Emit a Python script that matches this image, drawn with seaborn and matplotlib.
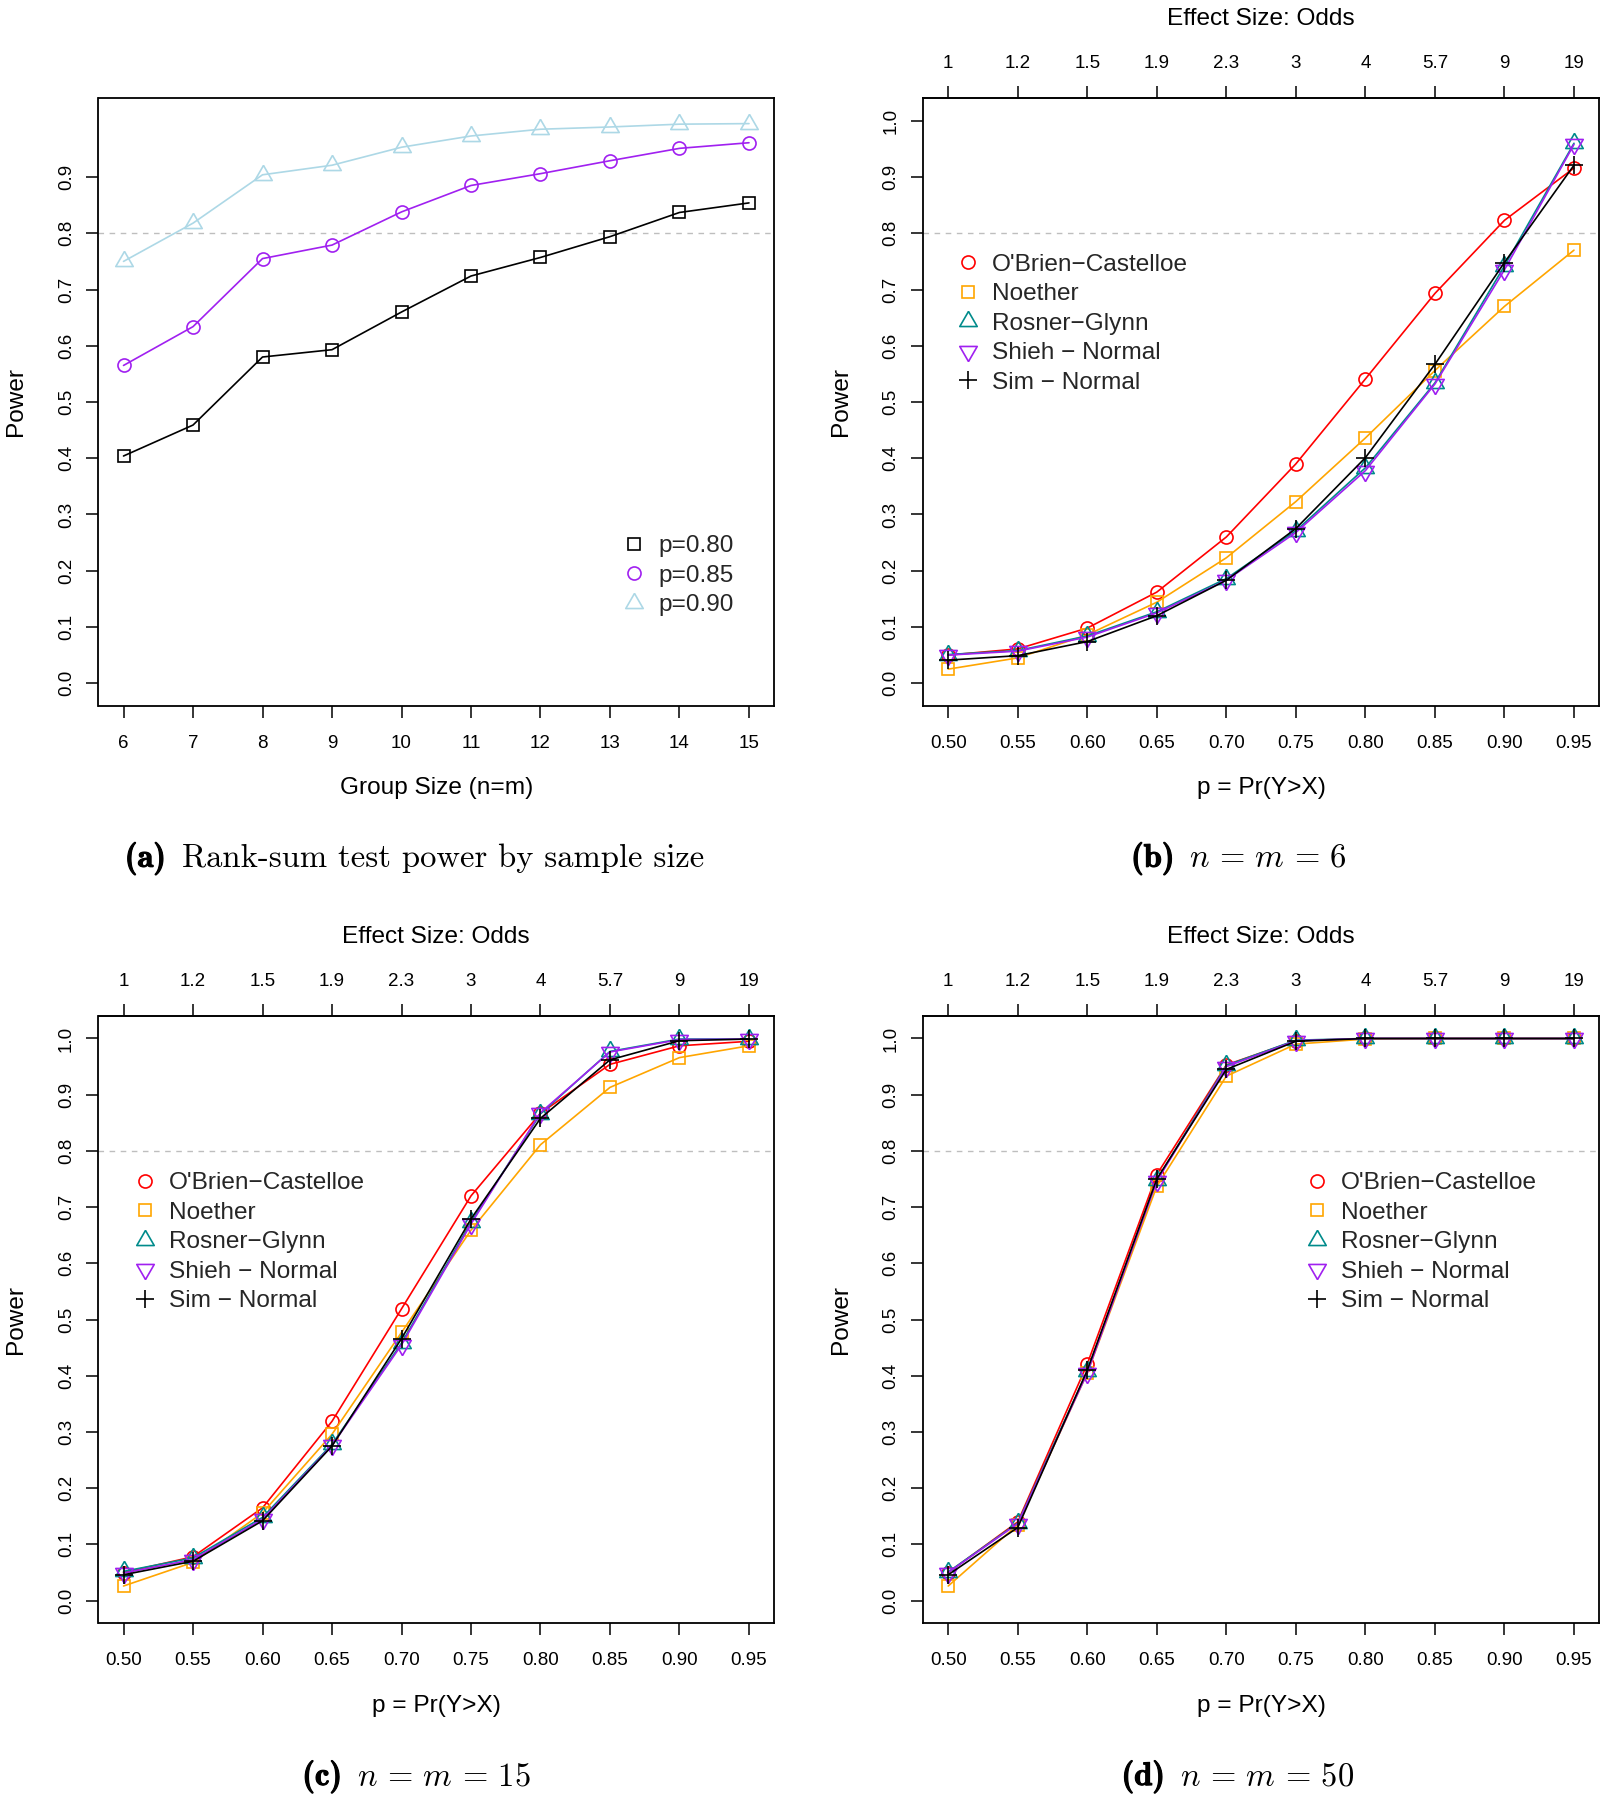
import matplotlib
matplotlib.use("Agg")
import matplotlib.pyplot as plt
import matplotlib.patheffects as pe
from matplotlib.lines import Line2D
import seaborn as sns

# ---- data ----
group_sizes = [6, 7, 8, 9, 10, 11, 12, 13, 14, 15]
power_p80 = [0.404, 0.459, 0.580, 0.593, 0.660, 0.724, 0.757, 0.794, 0.837, 0.854]
power_p85 = [0.565, 0.634, 0.755, 0.779, 0.838, 0.885, 0.906, 0.929, 0.951, 0.961]
power_p90 = [0.750, 0.818, 0.904, 0.921, 0.953, 0.973, 0.985, 0.989, 0.994, 0.995]

p_values = [0.50, 0.55, 0.60, 0.65, 0.70, 0.75, 0.80, 0.85, 0.90, 0.95]
odds_labels = ["1", "1.2", "1.5", "1.9", "2.3", "3", "4", "5.7", "9", "19"]
power_ticks = [0.0, 0.1, 0.2, 0.3, 0.4, 0.5, 0.6, 0.7, 0.8, 0.9, 1.0]

# n = m = 6
obrien_6 = [0.050, 0.061, 0.098, 0.162, 0.260, 0.390, 0.541, 0.693, 0.823, 0.916]
noether_6 = [0.025, 0.045, 0.086, 0.144, 0.223, 0.323, 0.436, 0.556, 0.670, 0.770]
rosner_6 = [0.051, 0.058, 0.084, 0.127, 0.186, 0.271, 0.383, 0.534, 0.742, 0.960]
shieh_6 = [0.050, 0.057, 0.082, 0.125, 0.183, 0.268, 0.378, 0.532, 0.735, 0.958]
sim_6 = [0.041, 0.049, 0.074, 0.120, 0.183, 0.275, 0.401, 0.567, 0.748, 0.921]

# n = m = 15
obrien_15 = [0.050, 0.078, 0.165, 0.319, 0.519, 0.720, 0.867, 0.954, 0.987, 0.995]
noether_15 = [0.026, 0.068, 0.156, 0.296, 0.477, 0.659, 0.811, 0.913, 0.966, 0.987]
rosner_15 = [0.052, 0.076, 0.148, 0.278, 0.458, 0.673, 0.866, 0.977, 0.999, 0.999]
shieh_15 = [0.049, 0.073, 0.145, 0.276, 0.455, 0.670, 0.868, 0.976, 0.998, 0.999]
sim_15 = [0.046, 0.070, 0.142, 0.275, 0.466, 0.679, 0.858, 0.962, 0.996, 0.999]

# n = m = 50
obrien_50 = [0.050, 0.140, 0.421, 0.758, 0.953, 0.996, 1.000, 1.000, 1.000, 1.000]
noether_50 = [0.026, 0.135, 0.405, 0.737, 0.933, 0.990, 0.999, 1.000, 1.000, 1.000]
rosner_50 = [0.051, 0.138, 0.408, 0.748, 0.952, 0.997, 1.000, 1.000, 1.000, 1.000]
shieh_50 = [0.050, 0.137, 0.405, 0.746, 0.950, 0.996, 1.000, 1.000, 1.000, 1.000]
sim_50 = [0.046, 0.130, 0.410, 0.750, 0.945, 0.995, 1.000, 1.000, 1.000, 1.000]

method_names = ["O'Brien\u2212Castelloe", "Noether", "Rosner\u2212Glynn",
                "Shieh \u2212 Normal", "Sim \u2212 Normal"]
group_names = ["p=0.80", "p=0.85", "p=0.90"]

# ---- styling ----
sns.set_theme(style="white")
plt.rcParams["font.family"] = ["Liberation Sans", "DejaVu Sans"]
plt.rcParams["mathtext.fontset"] = "cm"

# R-like triangles (centroid on the data point)
TRI_UP = [(0, 1), (-0.866, -0.5), (0.866, -0.5), (0, 1)]
TRI_DOWN = [(0, -1), (-0.866, 0.5), (0.866, 0.5), (0, -1)]
SQUARE = ("s", 8.3)
CIRCLE = ("o", 9.4)
UP = (TRI_UP, 14.5)
DOWN = (TRI_DOWN, 14.5)
PLUS = ("+", 13.2)
method_styles = [(CIRCLE, "#FF0000"), (SQUARE, "#FFA500"), (UP, "#008B8B"),
                 (DOWN, "#A020F0"), (PLUS, "black")]
group_styles = [(SQUARE, "black"), (CIRCLE, "#A020F0"), (UP, "#ADD8E6")]

W, H = 1606, 1800
LW = 1.2
TICK_FS = 13.5
LAB_FS = 17.6
CAP_FS = 23.5

fig = plt.figure(figsize=(W / 100, H / 100), dpi=100)


def px_axes(left, top, right, bottom):
    return fig.add_axes([left / W, 1 - bottom / H, (right - left) / W, (bottom - top) / H])


def draw_series(ax, x, y, style, color):
    marker, ms = style
    sns.lineplot(x=x, y=y, ax=ax, color=color, lw=LW, marker=marker, ms=ms,
                 mfc="none", mec=color, mew=LW, legend=False)


def style_axes(ax):
    for s in ax.spines.values():
        s.set_visible(True)
        s.set_color("black")
        s.set_linewidth(1.3)
    ax.grid(False)
    ax.tick_params(axis="both", direction="out", length=8.4, width=1.1, color="black",
                   labelsize=TICK_FS, labelcolor="black", bottom=True, left=True)
    ax.tick_params(axis="x", pad=12.5)
    ax.tick_params(axis="y", pad=8.5, labelrotation=90)
    for lbl in ax.get_yticklabels():
        lbl.set_va("center")
    ax.axhline(0.8, color="#BEBEBE", lw=1.0, ls=(0, (4, 4)), zorder=0)
    ax.set_ylabel("Power", fontsize=LAB_FS, labelpad=22, color="black")


def legend_handle(style, color):
    marker, ms = style
    return Line2D([], [], ls="none", marker=marker, ms=ms, mfc="none", mec=color, mew=LW)


def add_legend(ax, styles, labels, marker_x, row1_y):
    hl = 1.0
    fs_px = LAB_FS * 100 / 72
    x0 = marker_x - hl * fs_px / 2
    y0 = row1_y - 9.0
    handles = [legend_handle(s, c) for s, c in styles]
    ax.legend(handles, labels, loc="upper left", bbox_to_anchor=(x0 / W, 1 - y0 / H),
              bbox_transform=fig.transFigure, frameon=False, fontsize=LAB_FS,
              borderpad=0, borderaxespad=0, handlelength=hl, handletextpad=0.5,
              labelspacing=0.30)


def method_panel(ax, series):
    for vals, (style, color) in zip(series, method_styles):
        draw_series(ax, p_values, vals, style, color)
    ax.set_xlim(0.482, 0.968)
    ax.set_ylim(-0.04, 1.04)
    ax.set_xticks(p_values, labels=[f"{v:.2f}" for v in p_values])
    ax.set_yticks(power_ticks, labels=[f"{v:.1f}" for v in power_ticks])
    ax.set_xlabel("p = Pr(Y>X)", fontsize=LAB_FS, labelpad=18.5, color="black")
    style_axes(ax)
    top = ax.secondary_xaxis("top")
    top.set_xticks(p_values, labels=odds_labels)
    top.tick_params(direction="out", length=8.4, width=1.1, color="black",
                    labelsize=TICK_FS, labelcolor="black", pad=10.5, top=True)
    top.set_xlabel("Effect Size: Odds", fontsize=LAB_FS, labelpad=21.5, color="black")


# ---- panel (a) ----
ax_a = px_axes(98.5, 98.3, 774.0, 705.7)
for vals, (style, color) in zip([power_p80, power_p85, power_p90], group_styles):
    draw_series(ax_a, group_sizes, vals, style, color)
ax_a.set_xlim(5.64, 15.36)
ax_a.set_ylim(-0.04, 1.04)
ax_a.set_xticks(group_sizes, labels=[str(g) for g in group_sizes])
ax_a.set_yticks(power_ticks[:-1], labels=[f"{v:.1f}" for v in power_ticks[:-1]])
ax_a.set_xlabel("Group Size (n=m)", fontsize=LAB_FS, labelpad=18.5, color="black")
style_axes(ax_a)
add_legend(ax_a, group_styles, group_names, 633.6, 544.1)

# ---- panels (b), (c), (d) ----
ax_b = px_axes(923.2, 98.3, 1599.0, 705.7)
method_panel(ax_b, [obrien_6, noether_6, rosner_6, shieh_6, sim_6])
add_legend(ax_b, method_styles, method_names, 967.7, 262.9)

ax_c = px_axes(98.5, 1016.0, 774.0, 1623.1)
method_panel(ax_c, [obrien_15, noether_15, rosner_15, shieh_15, sim_15])
add_legend(ax_c, method_styles, method_names, 144.6, 1181.2)

ax_d = px_axes(923.2, 1016.0, 1599.0, 1623.1)
method_panel(ax_d, [obrien_50, noether_50, rosner_50, shieh_50, sim_50])
add_legend(ax_d, method_styles, method_names, 1316.7, 1181.2)

# ---- sub-captions: bold tag + text ----
captions = [
    (166.0, 182.0, 866.8, "(a)", "Rank-sum test power by sample size"),
    (1174.4, 1189.0, 866.8, "(b)", r"$n\,=\,m\,=\,6$"),
    (342.0, 357.0, 1785.0, "(c)", r"$n\,=\,m\,=\,15$"),
    (1165.0, 1180.0, 1785.0, "(d)", r"$n\,=\,m\,=\,50$"),
]
bold = [pe.withStroke(linewidth=0.8, foreground="black")]
for tag_x, txt_x, base_y, tag, txt in captions:
    fig.text(tag_x / W, 1 - base_y / H, tag, ha="right", va="baseline", fontsize=CAP_FS,
             family="cmb10", color="black", path_effects=bold)
    fig.text(txt_x / W, 1 - base_y / H, txt, ha="left", va="baseline", fontsize=CAP_FS,
             family="cmr10", color="black")

fig.savefig("out.png", dpi=100)
